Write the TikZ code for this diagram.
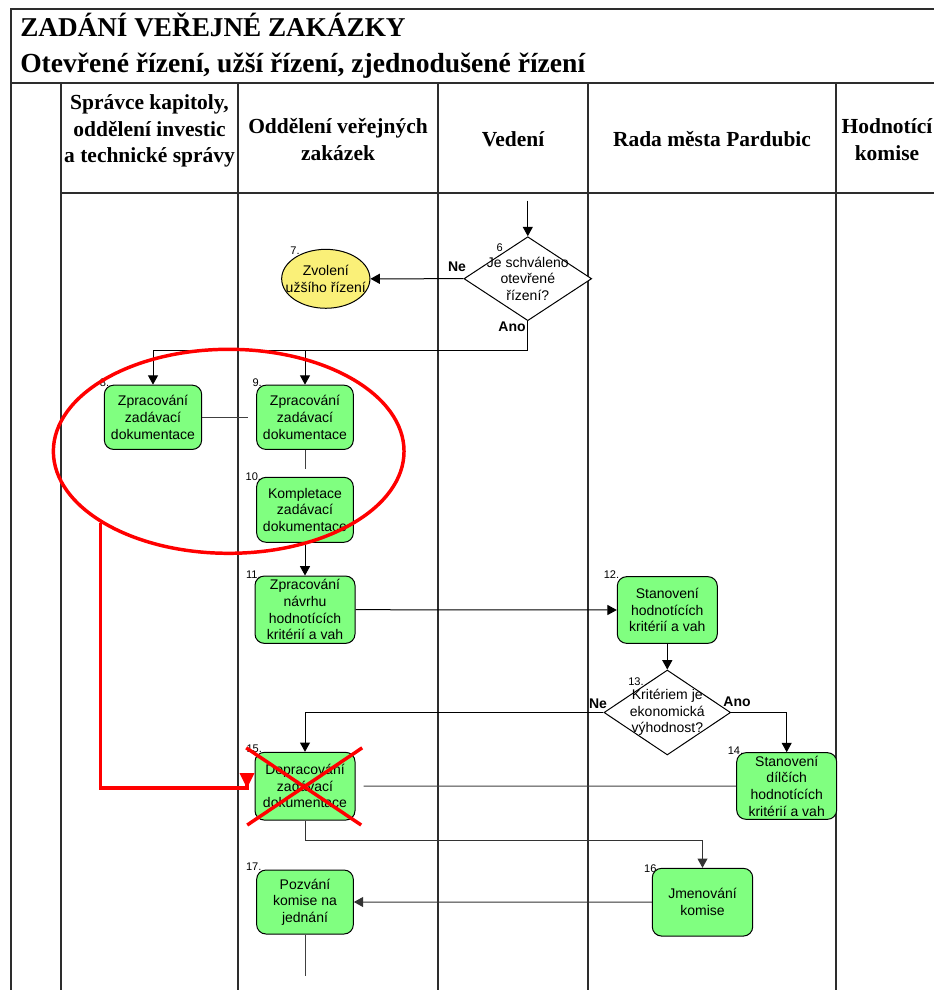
\documentclass[tikz,border=0pt]{standalone}
\usepackage{fontspec}
\setmainfont{Liberation Serif}
\newfontfamily\arialfont{Liberation Sans}
\usetikzlibrary{arrows.meta,shapes.geometric}
\definecolor{boxgreen}{RGB}{128,255,128}
\definecolor{ovalyellow}{RGB}{250,240,120}
\definecolor{laneline}{RGB}{45,45,45}
\definecolor{markred}{RGB}{255,0,0}

\begin{document}
\begin{tikzpicture}[x=0.75pt,y=-0.75pt,
  lane/.style={draw=laneline, line width=1.3pt},
  headtext/.style={font=\bfseries\fontsize{16.1}{19.8}\selectfont, align=center, inner sep=0},
  task/.style={draw=black, line width=0.75pt, fill=boxgreen, rounded corners=7pt,
    align=center, inner sep=1pt, font=\arialfont\fontsize{10.5}{12.5}\selectfont},
  decision/.style={diamond, draw=black, fill=white, line width=0.75pt, inner sep=0},
  caption/.style={align=center, inner sep=0, font=\arialfont\fontsize{10.5}{12.5}\selectfont},
  stepnum/.style={inner sep=0, font=\arialfont\fontsize{8.3}{9}\selectfont},
  branch/.style={inner sep=0, font=\arialfont\bfseries\fontsize{10.5}{12}\selectfont},
  flow/.style={draw=black, line width=0.75pt, -{Triangle[length=7pt,width=7.5pt]}},
  link/.style={draw=black!75, line width=0.75pt},
  redpen/.style={draw=markred, line width=2.6pt},
]
\useasboundingbox (0,0) rectangle (934,990);

% frame and swimlanes
\draw[lane] (11,990) -- (11,9.3) -- (940,9.3);
\draw[lane] (11,83) -- (940,83);
\draw[lane] (61,192.7) -- (940,192.7);
\foreach \lx in {61,238.3,438.3,588.3,836}
  \draw[lane] (\lx,83) -- (\lx,990);

% titles
\node[anchor=base west, inner sep=0, font=\bfseries\fontsize{20.4}{24}\selectfont]
  (title) at (20,36) {ZADÁNÍ VEŘEJNÉ ZAKÁZKY};
\node[anchor=base west, inner sep=0, font=\bfseries\fontsize{20.7}{24}\selectfont]
  (subtitle) at (20,72) {Otevřené řízení, užší řízení, zjednodušené řízení};

% lane headers
\node[headtext] (h1) at (149.5,131) {Správce kapitoly,\\oddělení investic\\a technické správy};
\node[headtext] (h2) at (338,139.5) {Oddělení veřejných\\zakázek};
\node[headtext] (h3) at (513,139) {Vedení};
\node[headtext] (h4) at (712,139) {Rada města Pardubic};
\node[headtext] (h5) at (887,139.5) {Hodnotící\\komise};

% step numbers
\node[stepnum] (n6) at (499.7,248) {6};
\node[stepnum] (n7) at (295,250.5) {7.};
\node[stepnum] (n8) at (104.5,383) {8.};
\node[stepnum] (n9) at (257.2,382.3) {9.};
\node[stepnum] (n10) at (253.3,476.7) {10.};
\node[stepnum] (n11) at (253.3,574.5) {11.};
\node[stepnum] (n12) at (611.5,575) {12.};
\node[stepnum] (n13) at (636,681.5) {13.};
\node[stepnum] (n14) at (735.5,751) {14.};
\node[stepnum] (n15) at (254.2,748.5) {15.};
\node[stepnum] (n16) at (650.3,868.7) {16};
\node[stepnum] (n17) at (253.7,866.7) {17.};

% shapes
\node[decision, minimum width=95.8pt, minimum height=63pt] (d6) at (527.8,278.7) {};
\node[ellipse, draw=black, fill=ovalyellow, line width=0.75pt, inner sep=0,
  minimum width=66.2pt, minimum height=44.2pt] (e7) at (325.8,278.8) {};
\node[task, minimum width=73pt, minimum height=48.2pt] (b8) at (153,417.3)
  {Zpracování\\zadávací\\dokumentace};
\node[task, minimum width=72.5pt, minimum height=48.2pt] (b9) at (305,417.3)
  {Zpracování\\zadávací\\dokumentace};
\node[task, minimum width=72.5pt, minimum height=48.7pt] (b10) at (305,509.8)
  {Kompletace\\zadávací\\dokumentace};
\node[task, minimum width=75pt, minimum height=50.5pt] (b11) at (305,609.7)
  {Zpracování\\návrhu\\hodnotících\\kritérií a vah};
\node[task, minimum width=75pt, minimum height=50pt] (b12) at (667.3,610)
  {Stanovení\\hodnotících\\kritérií a vah};
\node[decision, minimum width=95pt, minimum height=63.7pt] (d13) at (667.3,712.5) {};
\node[task, minimum width=75pt, minimum height=50pt] (b14) at (786.7,786)
  {Stanovení\\dílčích\\hodnotících\\kritérií a vah};
\node[task, minimum width=75pt, minimum height=50.8pt] (b15) at (305,786.2)
  {Dopracování\\zadávací\\dokumentace};
\node[task, minimum width=75.3pt, minimum height=50.8pt] (b16) at (702.5,902.2)
  {Jmenování\\komise};
\node[task, minimum width=72.5pt, minimum height=48pt] (b17) at (305,902)
  {Pozvání\\komise na\\jednání};

% texts inside the decisions and the oval
\node[caption] (d6t) at (d6) {Je schváleno\\otevřené\\řízení?};
\node[caption] (d13t) at (d13) {Kritériem je\\ekonomická\\výhodnost?};
\node[caption] (e7t) at (e7) {Zvolení\\užšího řízení};

% connectors
\coordinate (start6) at (527.8,200.7);
\coordinate (fork) at (527.8,350);
\coordinate (tail17) at (305,975.7);
\draw[flow] (start6) -- (d6.north);
\draw[flow] (d6.west) -- (e7.east);
\draw[draw=black, line width=0.75pt] (d6.south) -- (fork);
\draw[flow] (fork) -| (b8.north);
\draw[flow] (b9.north |- fork) -- (b9.north);
\draw[link, shorten >=6.2pt] (b8.east) -- (b9.west);
\draw[link, shorten >=6pt] (b9.south) -- (b10.north);
\draw[flow] (b10.south) -- (b11.north);
\draw[flow] (b11.east) -- (b12.west);
\draw[flow] (b12.south) -- (d13.north);
\draw[flow] (d13.west) -| (b15.north);
\draw[flow] (d13.east) -| (b14.north);
\draw[link, shorten >=6pt] (b14.west) -- (b15.east);
\draw[flow, draw=black!80] (b15.south) -- ++(0,19.5) -| (b16.north);
\draw[flow, draw=black!80] (b16.west) -- (b17.east);
\draw[link] (b17.south) -- (tail17);

% branch labels
\node[branch] (ne6) at (457,267) {Ne};
\node[branch] (ano6) at (512,326.7) {Ano};
\node[branch] (ne13) at (598,703.3) {Ne};
\node[branch] (ano13) at (737,701.7) {Ano};

% red review marks
\node[ellipse, redpen, inner sep=0, minimum width=263pt, minimum height=153pt]
  (ring) at (228.7,451.3) {};
\coordinate (redstart) at (100.7,522.7);
\coordinate (redend) at (247,788);
\draw[draw=markred, line width=2.3pt] (redstart) |- (redend) -- ++(0,-5);
\fill[markred] (239.5,773) -- (254.5,773) -- (redend) -- cycle;
\draw[redpen] (b15.north west) ++(-8.3,-4) -- ++(115,77.2);
\draw[redpen] (b15.north east) ++(6.7,-4) -- ++(-115,77.2);
\end{tikzpicture}
\end{document}
